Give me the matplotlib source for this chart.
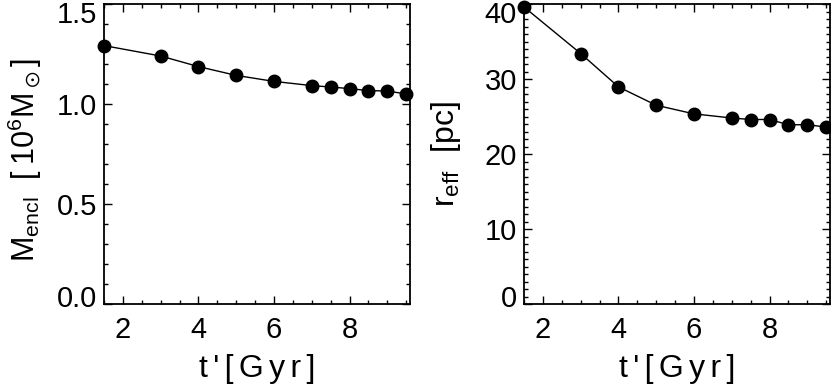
import matplotlib
matplotlib.use("Agg")
import matplotlib.pyplot as plt
from matplotlib.ticker import MultipleLocator
from matplotlib.transforms import ScaledTranslation

plt.rcParams['font.family'] = ['Liberation Sans', 'DejaVu Sans']
plt.rcParams['mathtext.default'] = 'regular'

t = [1.5, 3.0, 4.0, 5.0, 6.0, 7.0, 7.5, 8.0, 8.5, 9.0, 9.5]
m_encl = [1.292, 1.240, 1.187, 1.143, 1.113, 1.092, 1.085, 1.077, 1.067, 1.065, 1.050]
r_eff = [39.6, 33.4, 28.95, 26.5, 25.35, 24.8, 24.6, 24.6, 23.9, 23.9, 23.6]

xticks = [2, 4, 6, 8]
left_yticks = [0.0, 0.5, 1.0, 1.5]
right_yticks = [0, 10, 20, 30, 40]

fig = plt.figure(figsize=(8.31, 3.85), dpi=100)
ax1 = fig.add_axes([104/831, 81/385, 306/831, 300/385])
ax2 = fig.add_axes([524/831, 81/385, 306/831, 300/385])

FS = 21
LFS = 22
TS = "\u2009"
HS = "\u2006"
xlabel_text = HS.join(list("t'[Gyr]"))


def style(ax, ymin, ymax, yticks, yminor, fmt):
    ax.set_xlim(1.5, 9.6)
    ax.set_ylim(ymin, ymax)
    ax.set_xticks(xticks)
    ax.set_yticks(yticks)
    ax.set_yticklabels([fmt.format(v) for v in yticks])
    ax.xaxis.set_minor_locator(MultipleLocator(0.5))
    ax.yaxis.set_minor_locator(MultipleLocator(yminor))
    ax.tick_params(which='both', direction='in', top=True, right=True, width=1.0)
    ax.tick_params(which='major', length=6)
    ax.tick_params(which='minor', length=3)
    ax.tick_params(axis='x', which='major', labelsize=FS, pad=9)
    ax.tick_params(axis='y', which='major', labelsize=FS, pad=5)
    for s in ax.spines.values():
        s.set_linewidth(1.3)
    ax.set_xlabel(xlabel_text, fontsize=LFS + 1)
    ax.xaxis.set_label_coords(0.5, -0.165)
    labels = ax.get_yticklabels()
    shift = 8 / 100.0
    labels[-1].set_transform(labels[-1].get_transform() + ScaledTranslation(0, -shift, fig.dpi_scale_trans))
    labels[0].set_transform(labels[0].get_transform() + ScaledTranslation(0, shift, fig.dpi_scale_trans))


ax1.plot(t, m_encl, color='black', lw=1.0, marker='o', ms=9, clip_on=False, zorder=3)
style(ax1, 0, 1.5, left_yticks, 0.1, "{:.1f}")
ax1.set_ylabel(r"M$_{encl}$  [" + TS + r"10$^6$M$_\odot$]", fontsize=LFS)
ax1.yaxis.set_label_coords(-0.195, 0.48)

ax2.plot(t, r_eff, color='black', lw=1.0, marker='o', ms=9, clip_on=False, zorder=3)
style(ax2, 0, 40, right_yticks, 1, "{:d}")
ax2.set_ylabel(r"r$_{eff}$  [pc]", fontsize=LFS + 1)
ax2.yaxis.set_label_coords(-0.2, 0.5)

fig.savefig("out.png", dpi=100)
